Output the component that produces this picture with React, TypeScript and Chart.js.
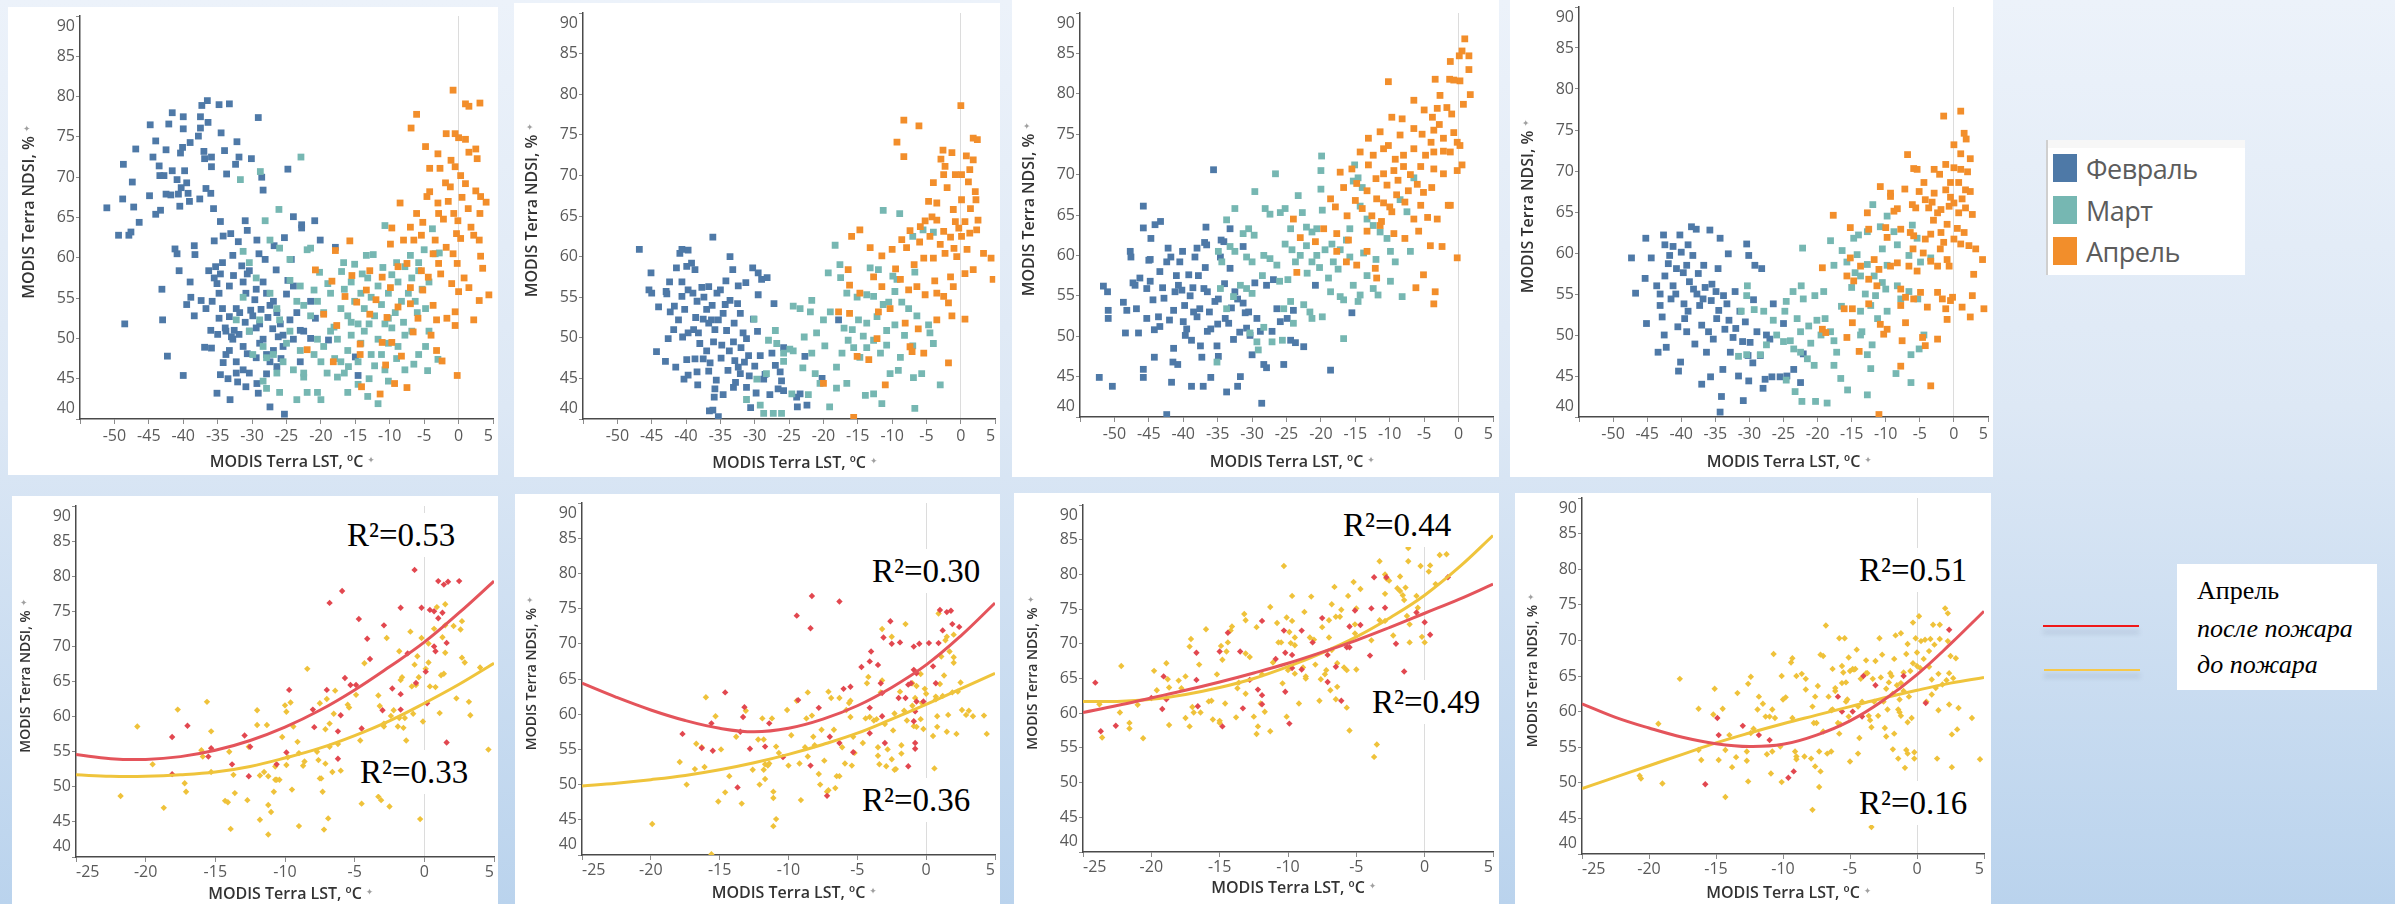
import React, { useEffect, useRef } from "react";
import { Chart, registerables } from "chart.js";

Chart.register(...registerables);
Chart.defaults.font.family = '"Open Sans", "Noto Sans", sans-serif';

type Pt = [number, number];

// ---------- ticks ----------
const yTickValues = [40, 45, 50, 55, 60, 65, 70, 75, 80, 85, 90];
const xTickValuesTop = [-55, -50, -45, -40, -35, -30, -25, -20, -15, -10, -5, 0, 5];
const xTickValuesBottom = [-25, -20, -15, -10, -5, 0, 5];
const fitX = [-25, -22.5, -20, -17.5, -15, -12.5, -10, -7.5, -5, -2.5, 0, 2.5, 5];

const monthNames = ["Февраль", "Март", "Апрель"];
const monthColors = ["#4e79a7", "#76b7b2", "#f28e2b"];

// ---------- panel 1 (top) ----------
const feb1: Pt[] = [
  [-51.1,66.2],[-49.4,62.8],[-48.8,67.3],[-48.7,71.6],[-48.5,51.8],[-47.9,62.8],[-47.6,63.2],[-47.4,69.4],[-47.2,66.3],[-46.9,73.5],
  [-46.4,64.4],[-44.9,67.7],[-44.8,76.5],[-44.4,72.5],[-44.0,74.5],[-44.0,65.4],[-43.5,71.4],[-43.4,70.2],[-43.3,65.9],[-43.1,56.1],
  [-43.0,52.3],[-42.8,70.2],[-42.5,73.4],[-42.5,67.9],[-42.3,47.8],[-42.1,76.6],[-41.8,67.8],[-41.6,78.0],[-41.6,70.8],[-41.2,61.1],
  [-40.9,60.5],[-40.9,69.7],[-40.7,67.9],[-40.6,58.4],[-40.5,66.4],[-40.4,73.0],[-40.3,68.7],[-40.1,73.7],[-40.0,76.0],[-40.0,77.5],
  [-40.0,45.4],[-39.8,70.8],[-39.5,69.3],[-39.5,54.2],[-39.3,68.0],[-39.1,67.0],[-39.0,74.3],[-39.0,57.0],[-38.9,55.1],[-38.4,61.5],
  [-38.3,60.4],[-38.4,52.8],[-37.8,75.1],[-37.6,67.3],[-37.5,76.1],[-37.5,77.5],[-37.4,54.7],[-37.3,78.9],[-37.0,73.2],[-36.9,72.3],
  [-36.9,48.9],[-36.7,68.6],[-36.0,68.0],[-36.5,79.5],[-36.4,76.8],[-35.9,71.3],[-35.9,72.5],[-35.9,48.8],[-35.6,66.1],[-35.5,62.1],
  [-35.3,58.9],[-35.1,56.8],[-34.6,58.0],[-35.1,43.2],[-34.8,79.0],[-34.6,64.5],[-34.6,45.5],[-34.5,75.5],[-34.2,62.7],[-34.0,73.3],
  [-33.7,70.4],[-33.3,79.1],[-33.2,42.4],[-33.1,63.0],[-32.7,57.8],[-32.4,71.6],[-32.2,74.4],[-32.1,44.6],[-31.9,72.5],[-31.0,64.6],
  [-30.7,63.4],[-30.7,58.0],[-30.7,48.1],[-30.1,72.3],[-29.3,62.2],[-29.1,77.4],[-29.1,43.2],[-28.6,70.0],[-28.4,68.4],[-28.1,59.8],
  [-27.4,41.5],[-26.8,61.5],[-26.4,46.5],[-25.3,40.6],[-25.3,62.5],[-24.8,71.0],[-24.8,57.2],[-24.3,59.8],[-24.0,65.1],[-22.8,64.1],
  [-22.8,63.7],[-20.9,64.6],[-20.1,62.2],[-18.9,49.8],[-17.9,61.3],[-15.0,47.7],[-14.6,45.4],
  [-34.3,53.7],[-33.3,52.7],[-32.3,53.7],[-31.8,53.2],[-33.8,50.9],[-32.8,49.9],[-31.3,49.0],[-33.3,48.5],[-32.3,47.1],[-31.3,46.1],
  [-30.4,45.7],[-29.9,52.8],[-29.4,51.3],[-28.9,51.8],[-28.4,49.9],[-27.9,55.6],[-27.4,54.1],[-26.9,54.6],[-26.4,53.2],[-25.9,51.8],
  [-25.5,50.4],[-30.9,55.6],[-31.3,57.0],[-33.3,56.5],[-34.8,55.6],[-35.8,54.6],[-36.7,53.7],[-29.4,56.1],[-28.4,57.0],[-30.4,58.4],
  [-32.8,60.3],[-34.3,59.4],[-36.3,58.4],[-33.8,48.0],[-32.3,45.7],[-30.4,50.9],[-29.4,47.6],[-27.9,48.0],[-26.9,48.5],[-25.5,49.0],
  [-24.0,49.9],[-22.5,50.9],[-24.5,52.3],[-23.5,53.2],[-21.5,54.6],[-23.0,47.1],[-27.4,47.1],[-28.9,49.4],
  [-35.5,57.5],[-34.8,52.5],[-33.9,51.3],[-33.0,50.2],[-32.6,51.0],[-31.9,50.5],[-31.0,52.0],[-30.2,53.5],[-29.6,54.8],[-28.7,53.6],
  [-27.7,52.6],[-27.0,51.2],[-26.2,50.2],[-25.8,47.5],[-27.9,45.6],[-29.3,44.4],[-30.9,44.0],[-33.5,45.0],[-34.2,47.0],[-35.0,50.5],
  [-36.0,51.0],[-31.5,59.0],[-29.0,60.5],[-32.0,62.0],[-26.5,58.5],[-25.0,55.5],[-24.0,56.5],[-23.0,51.0],[-21.5,50.0],[-20.8,52.5]
];
const mar1: Pt[] = [
  [-22.9,72.5],[-28.8,70.7],[-31.7,69.7],[-26.1,66.0],[-28.1,64.6],[-22.0,61.0],[-20.2,58.2],[-10.7,64.0],[-3.8,63.6],[-3.4,60.5],
  [-2.8,60.6],[-16.7,59.4],[-15.1,59.2],[-13.4,60.3],[-12.4,60.4],[-5.8,59.4],
  [-27.4,55.6],[-26.4,53.7],[-26.0,52.3],[-24.5,50.9],[-23.5,54.6],[-22.5,54.1],[-21.5,52.8],[-20.5,54.6],[-19.6,53.2],[-18.6,55.6],
  [-18.1,51.4],[-17.1,53.7],[-16.6,56.1],[-16.1,52.8],[-15.6,57.0],[-15.1,54.6],[-14.6,51.8],[-14.2,55.6],[-13.7,53.7],[-13.2,57.5],
  [-12.7,55.1],[-12.2,52.8],[-11.7,56.5],[-11.2,54.2],[-10.7,51.8],[-10.2,55.6],[-9.7,57.9],[-9.2,53.2],[-8.8,57.0],[-8.3,54.6],
  [-7.8,58.9],[-7.3,55.6],[-6.8,57.5],[-6.3,54.6],[-5.8,58.4],[-5.3,56.1],[-4.8,53.7],[-4.3,57.0],
  [-28.4,49.0],[-27.9,47.6],[-26.9,48.0],[-26.4,45.7],[-25.5,47.1],[-25.0,49.4],[-24.0,46.1],[-23.0,48.5],[-22.5,45.2],[-22.0,43.3],
  [-21.0,48.0],[-20.5,49.9],[-20.0,47.1],[-19.6,49.0],[-19.1,45.7],[-18.6,50.9],[-17.6,49.9],[-17.1,47.1],[-16.6,45.7],[-16.1,48.5],
  [-15.6,50.4],[-14.6,47.1],[-14.2,49.4],[-13.7,50.9],[-12.7,48.0],[-12.2,46.6],[-11.7,49.9],[-11.2,48.0],[-10.7,46.1],[-10.2,49.4],
  [-9.7,51.3],[-8.8,49.0],[-7.8,50.4],[-6.8,50.9],[-5.8,48.0],[-4.8,49.0],[-4.3,50.9],
  [-28.4,44.7],[-27.9,43.8],[-26.0,43.3],[-23.5,42.4],[-22.5,45.7],[-20.5,43.3],[-20.0,42.4],[-17.6,45.2],[-16.1,43.3],[-14.6,44.3],
  [-13.2,42.8],[-11.7,41.9],[-10.2,44.7],[-7.8,46.1],[-27.4,62.2],[-26.0,61.2],[-24.5,59.8],[-21.5,61.2],[-31.3,60.8],[-30.4,59.4],
  [-29.4,57.5],[-31.3,55.1],[-32.3,52.3],[-30.4,50.9],[-29.9,48.0],[-28.9,52.3],
  [-17.0,58.3],[-14.0,58.0],[-11.0,58.8],[-9.0,59.4],[-7.0,60.3],[-5.0,61.0],[-19.0,56.8],[-21.0,56.0],[-23.0,56.5],[-24.5,57.2],
  [-15.6,52.0],[-13.0,51.8],[-10.2,52.5],[-8.0,52.0],[-6.0,53.2],[-18.0,47.5],[-16.0,46.5],[-13.0,45.0],[-9.0,47.5],[-6.5,46.8],
  [-4.5,46.0],[-3.0,47.4]
];
const apr1: Pt[] = [
  [-0.8,80.8],[1.0,79.1],[3.1,79.2],[1.5,78.8],[-6.1,77.8],[-6.9,76.1],[-1.8,75.4],[-0.5,75.4],[0.0,74.9],[1.0,74.7],
  [-4.8,73.8],[-3.0,72.9],[1.5,73.1],[2.5,73.5],[2.7,72.3],[-4.2,71.1],[-2.7,71.1],[-1.1,72.1],[-0.5,71.3],[-1.9,69.3],
  [-1.2,68.8],[0.3,70.2],[1.0,69.2],[-4.6,67.6],[-4.2,68.2],[-8.5,66.8],[2.5,68.3],[3.2,67.6],[4.0,66.9],[-6.1,65.5],
  [-5.2,64.4],[-2.9,65.5],[-2.2,64.8],[-0.7,65.5],[-0.1,64.6],[1.4,66.1],[3.1,65.5],[-9.7,63.7],[-7.0,63.8],[-15.8,62.1],
  [-17.9,60.9],[-9.9,61.7],[-8.0,62.2],[-6.5,62.2],[-5.4,62.8],[-3.4,62.2],[-1.8,61.3],[0.3,62.4],[2.2,62.8],[3.0,62.2],
  [3.2,60.2],[-3.7,60.5],[-2.9,59.3],[-0.8,60.5],[-0.2,59.3],[-8.8,58.9],[-7.5,59.3],[-5.4,58.4],[-4.4,57.6],[-15.5,57.8],
  [-12.9,58.4],[-11.1,57.6],[-20.8,58.5],[-18.4,57.1],[0.0,55.8],[1.5,56.3],[4.4,55.4],[3.0,54.7],[-13.4,56.0],[-9.9,56.3],
  [-7.0,56.3],[-5.2,56.0],[-8.8,53.9],[-7.0,54.3],[-3.7,54.1],[-12.9,53.0],[-10.4,52.6],[-19.6,53.0],[-17.7,51.6],[-3.2,52.3],
  [-1.7,52.5],[-0.5,53.3],[2.2,52.3],[-0.5,51.6],[-14.3,49.3],[-11.1,49.5],[-9.7,49.5],[-22.0,48.6],[-18.2,47.1],[-14.3,48.0],
  [-10.6,46.7],[-3.2,48.5],[-2.4,47.2],[-0.2,45.4],[-9.3,44.4],[-7.5,43.9],[-14.1,44.0],[-11.4,43.1],
  [-1.5,67.0],[0.5,67.5],[-3.0,66.8],[1.8,63.8],[-0.3,63.0],[-2.6,58.0],[-1.0,56.8],[-5.9,52.5],[-4.0,50.4],[-6.6,50.8],
  [-8.3,47.8],[-12.0,54.8],[-14.8,54.5],[-16.5,55.2],[0.8,57.5],[3.5,58.7]
];

// ---------- panel 2 (top) ----------
const feb2: Pt[] = [
  [-46.8,60.9],[-45.1,58.0],[-45.4,55.9],[-45.0,55.5],[-44.3,48.3],[-44.0,53.8],[-43.0,47.1],[-42.9,55.7],[-42.8,55.4],[-42.6,49.9],
  [-42.3,53.2],[-41.7,53.9],[-42.4,56.9],[-41.5,46.4],[-41.1,52.2],[-40.9,60.4],[-40.6,60.9],[-41.4,58.6],[-40.6,56.9],[-40.6,55.1],
  [-40.5,50.1],[-40.3,44.9],[-39.9,58.8],[-39.7,60.8],[-39.2,59.2],[-38.7,58.4],[-39.7,55.9],[-39.0,55.5],[-38.4,54.5],[-39.7,50.6],
  [-38.9,51.0],[-38.2,50.6],[-39.9,47.3],[-38.7,47.4],[-39.7,45.4],[-38.4,45.8],[-38.3,44.2],[-37.7,56.2],[-37.4,55.0],[-36.7,56.3],
  [-37.5,52.3],[-36.7,51.8],[-36.3,52.2],[-38.0,49.3],[-37.0,48.4],[-36.0,49.5],[-37.5,47.4],[-36.5,46.9],[-36.7,45.9],[-35.6,44.8],
  [-36.6,41.0],[-36.1,41.1],[-36.1,62.4],[-35.8,43.7],[-35.9,42.7],[-35.3,40.3],[-35.5,55.5],[-35.0,55.9],[-35.3,52.2],[-34.6,53.0],
  [-34.1,50.9],[-34.8,49.1],[-33.7,48.4],[-33.1,49.5],[-34.6,43.0],[-34.3,54.1],[-33.6,54.6],[-33.6,60.0],[-33.2,58.4],[-32.9,47.2],
  [-32.4,46.4],[-32.1,45.6],[-33.1,43.9],[-32.4,56.4],[-32.1,53.0],[-32.5,54.2],[-31.7,50.6],[-31.2,49.9],[-30.9,47.8],[-31.3,56.8],
  [-31.2,43.9],[-30.6,41.4],[-30.3,58.6],[-29.5,58.0],[-30.2,52.3],[-29.6,50.8],[-29.5,55.3],[-29.0,57.2],[-28.5,45.5],[-28.7,44.9],
  [-28.2,57.4],[-27.5,48.1],[-27.0,46.6],[-27.2,54.2],[-26.6,43.7],[-25.8,43.5],[-26.3,45.8],[-26.1,44.7],[-25.8,48.8],[-23.9,42.7],
  [-23.4,43.1],[-23.8,41.5],[-22.7,47.7],[-20.2,45.0],[-17.8,52.2],[-22.4,41.7],
  [-37.0,53.5],[-35.8,51.0],[-34.9,47.5],[-33.9,46.0],[-33.0,51.8],[-32.0,48.8],[-31.5,47.0],[-30.8,45.3],[-30.0,46.5],[-29.2,47.8],
  [-36.2,54.0],[-34.2,57.0],[-38.6,52.5],[-40.2,53.5],[-41.8,51.0],[-27.8,43.0],[-29.8,43.2],[-32.8,44.5]
];
const mar2: Pt[] = [
  [-11.3,65.7],[-8.9,65.3],[-5.5,63.3],[-4.0,63.0],[-7.0,62.5],[-18.3,61.4],[-17.6,59.0],[-17.5,57.4],[-19.3,58.0],[-13.2,58.6],
  [-12.0,58.4],[-9.9,57.6],[-9.3,57.2],[-6.7,58.1],[-16.6,55.5],[-15.1,55.0],[-13.7,55.3],[-12.7,55.1],[-11.3,54.1],[-10.5,54.4],
  [-9.6,55.7],[-8.6,54.4],[-7.6,53.6],[-6.4,52.7],[-4.7,51.6],[-4.5,50.6],[-4.0,49.3],[-5.7,45.6],[-3.0,44.2],[-6.9,45.1],
  [-6.7,41.3],[-11.5,41.9],[-12.7,43.1],[-13.9,42.9],[-10.3,45.6],[-9.1,46.0],[-8.8,47.6],[-11.7,48.1],[-10.8,49.1],[-13.7,48.8],
  [-14.7,47.6],[-15.6,48.8],[-16.4,49.7],[-17.3,48.1],[-18.1,46.4],[-16.6,44.4],[-18.1,43.8],[-19.1,41.5],[-20.5,44.4],[-21.2,45.6],
  [-21.7,48.1],[-21.0,50.6],[-20.0,52.2],[-19.0,53.2],[-21.9,53.2],[-21.7,54.6],[-24.4,53.9],[-23.4,53.6],[-22.8,50.1],[-24.4,48.4],
  [-24.9,48.6],[-25.8,47.1],[-25.8,48.1],[-27.0,50.9],[-28.0,49.7],[-26.8,49.3],[-28.3,45.6],[-29.7,44.9],[-29.2,41.7],[-28.7,40.7],
  [-27.3,40.7],[-26.1,40.7],[-31.2,42.4],[-30.1,52.3],[-24.6,43.1],[-10.8,50.9],[-12.7,49.7],[-14.9,52.2],[-13.7,51.8],
  [-15.8,51.0],[-14.2,50.2],[-12.2,52.6],[-9.6,51.6],[-8.2,50.3],[-7.0,49.0],[-17.0,51.2],[-19.8,49.0],[-23.0,46.3],[-22.2,43.0]
];
const apr2: Pt[] = [
  [0.0,78.6],[-8.3,76.8],[-6.1,76.1],[-9.3,74.1],[-8.3,72.3],[1.8,74.6],[2.4,74.4],[-2.6,73.1],[-1.3,72.8],[-2.9,72.0],
  [-2.3,71.1],[0.8,72.4],[1.8,71.9],[-2.5,70.1],[-0.8,70.1],[0.1,70.1],[1.3,70.7],[1.1,69.2],[-4.0,69.1],[-4.7,66.8],
  [-3.5,66.6],[2.1,68.0],[2.2,67.0],[0.1,67.0],[-1.1,65.8],[-4.2,64.9],[-3.5,64.5],[-5.9,63.7],[-5.2,64.4],[-0.8,64.3],
  [0.6,64.3],[2.5,64.5],[-15.9,62.5],[-14.7,63.3],[-7.4,63.2],[-8.6,62.1],[-4.5,62.5],[-2.5,63.1],[-1.5,62.4],[0.1,62.5],
  [1.3,62.9],[2.3,63.3],[-13.2,61.1],[-11.5,60.1],[-10.0,60.9],[-7.9,61.1],[-5.4,59.8],[-4.0,59.8],[-2.3,60.4],[-0.6,60.0],
  [3.3,60.4],[4.4,59.8],[4.7,57.2],[0.6,57.9],[1.8,58.4],[-1.5,57.5],[-1.1,56.3],[-16.4,58.4],[-16.2,56.5],[-14.7,55.5],
  [-12.7,57.5],[-11.5,56.3],[-8.8,57.2],[-7.6,55.9],[-6.4,56.3],[-5.2,55.3],[-3.5,55.5],[-2.5,55.1],[-1.8,54.3],[-17.8,53.2],
  [-16.2,53.0],[-12.0,53.2],[-10.3,53.6],[-8.1,51.8],[-6.2,51.1],[-3.5,52.2],[-1.3,52.7],[0.6,52.3],[-12.2,49.9],[-7.4,48.9],
  [-7.1,48.3],[-5.4,48.1],[-15.1,47.7],[-13.4,47.3],[-1.8,46.9],[-11.0,44.2],[-20.0,44.4],[-15.6,40.2],
  [-3.0,61.5],[-1.0,61.0],[0.9,60.9],[-6.8,59.0],[-3.8,57.0],[-9.5,58.5],[-6.0,61.8],[1.4,65.9],[-2.0,68.5],[-0.3,63.5]
];

// ---------- panel 3 (top) ----------
const feb3: Pt[] = [
  [-52.2,44.9],[-51.6,56.2],[-51.0,55.5],[-50.9,53.2],[-50.9,52.2],[-50.3,43.8],[-48.7,54.2],[-48.4,50.4],[-48.2,53.2],[-47.7,60.5],
  [-47.6,59.8],[-47.3,56.6],[-47.0,56.3],[-46.8,53.4],[-46.5,50.4],[-46.3,57.2],[-45.8,66.1],[-45.8,63.4],[-45.8,45.9],[-45.8,44.9],
  [-45.3,55.9],[-45.3,52.2],[-45.0,59.4],[-44.8,59.5],[-44.7,62.1],[-44.4,54.5],[-44.2,50.8],[-44.2,47.4],[-44.1,63.8],[-43.6,52.4],
  [-43.4,51.2],[-43.4,58.0],[-43.3,64.2],[-42.8,54.7],[-42.4,59.2],[-42.2,60.9],[-41.8,59.8],[-41.7,44.3],[-41.4,53.2],[-41.2,55.5],
  [-41.4,48.5],[-41.5,46.8],[-40.8,46.5],[-40.5,59.2],[-40.1,60.5],[-40.7,56.3],[-40.2,55.7],[-40.0,51.8],[-39.5,50.9],[-39.7,50.1],
  [-39.2,57.6],[-38.6,56.0],[-38.8,43.8],[-38.5,53.0],[-38.0,52.4],[-38.3,59.8],[-38.0,60.9],[-37.6,53.4],[-37.5,48.8],[-37.3,47.4],
  [-37.1,43.8],[-36.9,61.6],[-36.6,61.3],[-37.0,55.9],[-36.5,55.5],[-36.7,63.5],[-36.5,50.6],[-36.0,50.9],[-36.0,44.9],[-35.6,70.6],
  [-35.4,54.3],[-34.9,54.6],[-35.1,48.8],[-34.9,47.5],[-34.6,59.8],[-34.5,61.9],[-34.1,61.7],[-33.9,52.2],[-33.4,51.6],[-33.7,43.1],
  [-33.2,58.4],[-33.2,63.3],[-32.7,49.6],[-32.5,55.5],[-32.1,54.6],[-32.1,43.8],[-31.7,45.0],[-31.3,54.1],[-31.0,52.9],[-31.3,61.1],
  [-30.8,51.0],[-30.3,50.1],[-30.0,47.7],[-29.6,56.6],[-29.3,52.2],[-28.8,50.6],[-28.6,41.7],[-28.3,46.5],[-27.9,46.1],[-27.9,56.3],
  [-27.1,50.6],[-26.9,57.0],[-26.4,53.4],[-25.9,51.8],[-25.4,46.5],[-24.9,52.2],[-24.4,49.5],[-24.0,53.2],[-23.7,49.2],[-22.5,48.7],
  [-20.8,56.3],[-18.6,45.8],[-15.5,52.9],[-42.4,40.3],
  [-43.0,56.0],[-41.0,57.5],[-39.0,55.0],[-37.8,57.5],[-36.2,53.0],[-35.0,51.5],[-34.0,56.5],[-33.0,53.5],[-31.8,50.5],[-30.5,53.0],
  [-39.8,53.8],[-42.0,52.0],[-44.8,56.8],[-38.8,49.5],[-36.8,58.5]
];
const mar3: Pt[] = [
  [-20.0,70.5],[-19.9,72.3],[-26.6,70.1],[-29.6,67.9],[-23.3,67.4],[-20.0,68.2],[-19.8,65.6],[-32.5,65.8],[-28.1,65.8],[-27.4,65.1],
  [-25.9,65.3],[-25.2,65.8],[-22.7,65.3],[-22.1,63.5],[-21.3,62.9],[-20.6,63.3],[-24.4,63.3],[-33.7,64.4],[-30.5,63.3],[-29.7,62.5],
  [-31.3,62.7],[-34.9,60.5],[-34.4,59.2],[-33.2,61.1],[-32.5,60.5],[-30.8,59.8],[-30.0,59.2],[-28.3,60.0],[-27.4,59.6],[-26.4,58.8],
  [-25.2,61.4],[-24.2,60.7],[-23.7,59.2],[-23.0,60.0],[-22.1,61.2],[-21.3,59.2],[-20.6,60.0],[-19.4,60.7],[-18.4,61.4],[-18.2,59.2],
  [-17.2,60.7],[-16.3,61.9],[-15.8,63.3],[-15.3,69.2],[-14.6,69.6],[-15.1,71.2],[-14.0,68.4],[-14.3,66.1],[-13.3,64.5],[-12.4,63.7],
  [-11.4,62.9],[-10.4,62.1],[-9.9,60.5],[-9.2,59.2],[-8.5,66.9],[-7.5,65.4],[-6.5,69.6],[-7.0,60.5],[-9.9,56.8],[-8.2,54.9],
  [-12.4,55.9],[-11.7,55.1],[-14.3,55.1],[-13.3,57.5],[-15.3,56.3],[-14.6,54.3],[-17.2,54.9],[-16.7,54.5],[-18.6,55.5],[-16.7,49.7],
  [-19.8,52.4],[-21.6,53.0],[-21.3,52.2],[-22.5,53.9],[-24.4,54.3],[-24.0,51.6],[-25.4,53.4],[-25.6,49.5],[-27.1,49.3],[-28.3,51.1],
  [-29.3,49.3],[-30.3,50.4],[-29.1,48.3],[-30.8,55.9],[-30.0,55.3],[-32.7,54.9],[-31.7,56.3],[-33.7,53.4],[-35.1,46.8],[-34.6,55.9],
  [-22.0,57.8],[-20.2,58.5],[-18.9,57.2],[-17.5,58.3],[-15.8,59.8],[-13.8,60.3],[-12.0,59.5],[-26.0,56.8],[-28.5,57.5],[-24.8,57.0]
];
const apr3: Pt[] = [
  [0.9,86.8],[0.5,85.3],[0.1,84.7],[1.5,84.7],[-1.2,84.0],[1.5,83.0],[0.2,81.6],[-0.7,81.7],[-1.3,81.8],[1.7,79.9],
  [0.7,78.7],[-2.7,79.8],[-3.4,81.8],[-1.7,78.3],[-3.1,78.2],[-10.2,81.5],[-9.7,77.1],[-8.2,76.9],[-6.5,79.2],[-5.0,78.0],
  [-3.8,77.1],[-11.4,75.3],[-13.1,74.5],[-10.2,73.6],[-8.5,74.9],[-6.5,75.7],[-5.3,75.0],[-3.6,75.5],[-2.2,74.5],[-0.7,75.2],
  [-0.2,74.0],[-14.3,72.8],[-12.4,72.4],[-10.9,73.2],[-9.2,71.9],[-8.0,72.4],[-6.5,73.2],[-4.8,72.4],[-3.6,72.8],[-2.2,72.9],
  [-1.2,72.8],[0.2,73.6],[-17.2,70.3],[-15.5,70.7],[-13.1,71.2],[-10.9,70.1],[-9.4,70.5],[-8.0,71.0],[-5.5,71.0],[-3.6,70.7],
  [-2.2,70.1],[-0.2,70.5],[0.5,71.2],[-16.7,68.4],[-14.8,68.9],[-13.3,68.0],[-11.9,67.0],[-10.4,68.7],[-9.0,67.5],[-7.3,68.0],
  [-5.1,67.8],[-3.9,68.4],[-18.6,67.0],[-17.9,66.0],[-16.2,64.9],[-14.0,65.8],[-12.6,64.9],[-10.9,66.5],[-9.7,65.4],[-7.8,66.6],
  [-6.5,64.5],[-5.5,66.2],[-4.5,64.7],[-3.1,64.5],[-1.5,66.2],[-24.0,64.5],[-23.0,62.2],[-20.8,61.7],[-19.6,63.3],[-17.7,62.7],
  [-16.0,61.9],[-13.3,63.0],[-11.4,63.7],[-9.4,62.7],[-7.8,62.1],[-5.8,63.0],[-4.1,61.2],[-23.5,57.9],[-17.7,60.5],[-16.3,59.2],
  [-14.8,58.8],[-13.3,60.5],[-12.1,58.4],[-11.9,57.2],[-5.1,57.6],[-6.2,56.0],[-2.4,61.1],[-0.2,59.7],[-3.4,55.5],[-3.6,54.0],
  [-1.2,66.2],
  [-12.0,69.5],[-10.0,66.0],[-8.8,69.3],[-7.0,70.0],[-6.0,68.8],[-11.2,64.2],[-15.0,66.8],[-4.0,74.0],[-1.0,77.5],[-2.8,76.2]
];

// ---------- panel 4 (top) ----------
const feb4: Pt[] = [
  [-47.3,59.4],[-46.7,55.1],[-45.3,56.9],[-45.2,61.8],[-45.1,51.4],[-44.4,59.4],[-43.6,56.0],[-43.1,55.0],[-43.4,47.9],[-43.1,53.6],
  [-42.6,62.2],[-42.4,61.0],[-42.5,50.0],[-42.4,57.2],[-41.9,58.7],[-42.2,48.5],[-41.7,59.7],[-41.2,60.8],[-41.5,54.4],[-41.2,56.0],
  [-40.7,58.1],[-40.5,51.0],[-40.4,45.6],[-40.2,62.2],[-40.1,46.7],[-40.0,60.1],[-39.7,57.6],[-39.2,58.5],[-39.6,53.8],[-39.5,52.0],
  [-39.0,52.9],[-39.2,50.4],[-39.0,61.0],[-38.3,59.7],[-38.5,63.2],[-37.8,62.9],[-38.2,55.6],[-37.7,55.0],[-38.0,48.9],[-37.3,53.6],
  [-36.8,54.4],[-37.0,44.0],[-36.7,58.5],[-36.3,47.9],[-35.8,62.8],[-35.7,44.9],[-35.5,56.2],[-34.9,55.3],[-35.3,49.5],[-34.8,52.0],
  [-34.6,58.1],[-34.3,61.8],[-34.3,40.6],[-34.1,42.5],[-33.9,45.8],[-33.8,54.8],[-33.3,53.8],[-33.6,50.7],[-33.1,59.9],[-32.8,47.9],
  [-32.4,49.7],[-32.1,55.3],[-31.6,45.0],[-31.4,52.9],[-30.9,42.0],[-30.6,51.6],[-30.4,61.1],[-30.1,59.7],[-30.1,44.4],[-29.9,49.1],
  [-29.4,54.3],[-29.2,58.5],[-28.9,50.4],[-28.4,47.5],[-28.2,58.1],[-28.0,43.5],[-27.7,44.6],[-27.5,50.0],[-27.0,49.5],[-26.7,44.9],
  [-26.5,53.8],[-25.5,44.9],[-25.0,51.4],[-24.5,45.0],[-23.5,45.8],[-22.5,44.2],[-22.1,47.7],
  [-38.8,56.5],[-37.5,57.5],[-36.5,55.8],[-35.6,54.2],[-34.5,53.0],[-33.0,51.8],[-32.0,50.8],[-31.0,49.2],[-30.2,47.5],[-29.5,46.6],
  [-37.0,51.2],[-36.0,50.4],[-40.8,55.0],[-42.8,52.2]
];
const mar4: Pt[] = [
  [-11.9,65.9],[-22.2,60.6],[-18.1,61.5],[-16.4,60.3],[-14.7,61.8],[-14.0,62.2],[-12.7,62.6],[-10.8,63.2],[-9.8,64.5],[-8.8,62.6],
  [-8.3,61.0],[-6.1,63.4],[-5.4,61.8],[-6.6,59.7],[-4.9,58.9],[-15.7,58.9],[-14.5,57.6],[-13.7,57.2],[-12.7,58.6],[-11.7,57.2],
  [-10.5,56.4],[-9.8,58.5],[-8.3,56.0],[-7.8,54.4],[-6.6,55.3],[-5.3,54.4],[-17.6,58.5],[-19.1,55.3],[-20.4,54.8],[-22.1,54.4],
  [-22.4,56.0],[-23.6,55.3],[-24.6,54.1],[-24.8,52.9],[-30.3,56.0],[-30.4,54.8],[-31.2,52.9],[-29.3,53.1],[-27.9,52.9],[-26.5,51.8],
  [-26.0,50.0],[-25.0,49.2],[-24.0,49.3],[-23.5,48.3],[-22.5,47.9],[-21.5,47.1],[-20.5,46.3],[-22.5,50.4],[-21.3,51.1],[-20.1,51.8],
  [-18.9,52.0],[-18.1,50.4],[-17.6,49.3],[-17.2,47.9],[-17.6,46.3],[-16.6,44.7],[-15.6,43.3],[-18.6,41.7],[-20.3,41.9],[-22.3,41.9],
  [-23.3,43.1],[-24.6,44.5],[-27.5,48.8],[-28.4,47.6],[-30.4,47.6],[-31.6,47.4],[-13.7,52.9],[-12.2,53.6],[-11.2,52.0],[-9.8,52.9],
  [-13.5,50.4],[-12.0,48.8],[-12.7,47.6],[-13.7,50.0],[-8.5,45.3],[-6.3,44.2],[-6.3,47.6],[-5.1,48.3],[-4.4,50.0],[-3.4,59.4],
  [-12.2,45.9],[-12.7,42.7],
  [-15.0,55.8],[-13.0,55.0],[-11.5,54.8],[-10.0,55.6],[-16.5,53.5],[-19.5,50.0],[-21.0,49.0],[-23.0,52.0],[-14.2,59.8],[-10.5,60.5]
];
const apr4: Pt[] = [
  [1.0,77.3],[-1.5,76.7],[1.5,74.6],[1.8,73.9],[-6.8,72.0],[0.0,73.2],[1.0,72.1],[2.4,71.5],[-1.2,70.8],[-2.1,69.6],
  [-5.9,70.3],[-5.4,70.2],[-2.9,70.2],[0.0,70.4],[1.0,70.2],[2.0,69.9],[-10.8,68.1],[-9.3,67.3],[-9.3,66.9],[-7.2,67.8],
  [-5.1,67.5],[-4.4,68.6],[-2.9,67.3],[-1.2,67.7],[-0.5,68.6],[0.7,68.6],[1.7,67.7],[2.4,67.5],[-8.8,65.1],[-8.3,65.4],
  [-6.1,65.9],[-5.6,65.5],[-4.2,66.5],[-3.7,65.5],[-2.4,64.9],[-1.9,65.3],[-0.7,65.7],[0.0,66.1],[0.7,64.9],[1.7,65.5],
  [2.7,64.7],[-12.7,64.9],[-17.7,64.6],[-15.2,63.1],[-12.5,62.9],[-10.0,63.1],[-9.8,61.9],[-7.8,62.9],[-6.4,62.5],[-5.9,62.1],
  [-4.2,61.7],[-3.4,62.3],[-1.9,62.5],[-1.5,61.3],[0.0,61.7],[1.0,61.1],[2.2,60.9],[3.2,60.5],[4.2,59.2],[-15.2,59.4],
  [-13.7,58.4],[-11.7,59.2],[-11.0,58.0],[-9.3,58.4],[-8.3,58.8],[-6.6,58.4],[-5.4,57.8],[-3.4,59.0],[-2.4,58.4],[-1.0,59.2],
  [-0.7,58.4],[2.9,57.4],[-19.3,58.2],[-15.7,57.2],[-14.7,56.6],[-12.5,56.8],[-11.3,56.0],[-7.8,55.6],[-7.1,54.6],[-5.9,54.4],
  [-4.9,55.2],[-2.4,55.2],[-1.7,54.4],[-0.5,54.2],[-0.2,54.6],[-1.2,53.2],[1.2,53.4],[2.7,54.8],[4.4,53.2],[-16.1,53.2],
  [-14.9,53.2],[-12.5,53.8],[-10.8,51.3],[-9.8,50.7],[-7.8,53.6],[-7.1,51.5],[-3.9,53.4],[-1.0,51.9],[2.4,52.2],[-19.3,50.7],
  [-18.8,50.3],[-15.7,49.7],[-13.9,48.0],[-10.3,50.1],[-7.6,49.3],[-4.6,49.7],[-4.2,48.7],[-2.4,49.5],[-7.8,46.2],[-3.4,43.8],
  [-11.0,40.3],[-14.9,51.5],
  [-3.0,64.0],[-1.0,63.5],[0.5,63.0],[1.5,62.5],[-2.0,60.5],[-4.5,60.0],[-6.0,60.5],[-0.5,66.8],[1.2,66.6],[-3.2,66.2]
];

// ---------- bottom panels: April after fire (red) / before fire (yellow) ----------
const after1: Pt[] = [
  [-0.7,80.9],[-5.9,77.9],[-6.8,76.2],[-4.7,73.9],[-4.1,71.1],[-3.9,68.2],[-2.9,73.0],[-1.7,75.5],[-0.2,75.5],[0.4,75.2],
  [0.7,75.0],[1.0,79.3],[1.4,78.8],[1.7,79.2],[2.5,79.3],[1.0,74.0],[1.3,74.8],[1.6,70.5],[0.7,70.0],[0.8,69.3],
  [-1.2,69.0],[0.1,66.4],[-0.6,64.8],[-2.3,64.0],[-1.7,63.2],[0.2,61.9],[-3.0,60.9],[-1.7,61.0],[-5.7,65.5],[-5.3,64.5],
  [-4.9,64.5],[-6.0,60.2],[-6.2,57.9],[-6.2,54.0],[-4.5,58.3],[-7.0,63.8],[-8.0,61.0],[-7.9,58.5],[-9.7,63.8],[-9.9,54.9],
  [-10.6,53.2],[-12.5,55.7],[-12.6,51.5],[-12.9,57.3],[-13.8,53.2],[-15.5,54.3],[-15.3,55.5],[-17.0,58.7],[-18.1,57.1],[-18.1,51.8],
  [1.6,56.3]
];
const before1: Pt[] = [
  [-21.8,48.7],[-20.6,58.6],[-19.5,53.2],[-18.7,47.0],[-17.7,61.0],[-17.2,50.5],[-17.1,49.3],[-16.0,55.2],[-15.9,54.3],[-15.6,62.1],
  [-15.3,57.9],[-15.3,52.1],[-14.3,48.0],[-14.1,47.8],[-14.0,55.0],[-13.9,44.0],[-13.7,51.7],[-13.6,49.1],[-12.7,48.1],[-12.6,55.7],
  [-12.0,60.9],[-12.0,58.8],[-11.8,51.6],[-11.8,45.3],[-11.5,52.1],[-11.3,58.8],[-11.2,51.5],[-11.2,47.4],[-11.2,43.2],[-11.0,46.4],
  [-10.8,49.3],[-10.7,51.0],[-10.7,52.9],[-10.6,51.0],[-10.4,51.0],[-10.2,57.1],[-10.0,61.6],[-9.9,60.7],[-9.9,53.1],[-9.8,54.2],
  [-9.6,62.0],[-9.5,49.6],[-9.4,58.6],[-9.1,56.4],[-9.0,44.4],[-9.0,54.8],[-8.7,53.0],[-8.6,53.6],[-8.4,66.8],[-7.7,55.0],
  [-7.6,53.8],[-7.5,51.2],[-7.5,61.9],[-7.4,51.2],[-7.3,49.3],[-7.2,43.9],[-7.1,53.3],[-7.1,58.2],[-7.0,62.5],[-6.9,45.5],
  [-6.8,55.7],[-6.8,59.0],[-6.6,52.1],[-6.5,60.4],[-6.4,63.7],[-6.2,56.1],[-5.5,61.7],[-5.4,61.3],[-4.9,63.1],[-4.6,56.6],
  [-4.5,47.6],[-4.3,67.6],[-3.4,53.6],[-3.3,48.6],[-3.1,48.1],[-3.3,63.0],[-3.2,61.5],[-2.9,58.6],[-2.9,59.0],[-2.7,71.2],
  [-2.5,47.2],[-2.4,60.1],[-2.2,60.9],[-1.9,58.6],[-1.8,59.8],[-1.8,69.3],[-1.7,65.2],[-1.6,65.6],[-1.5,58.4],[-1.4,59.8],
  [-1.3,56.6],[-1.0,72.1],[-0.9,64.3],[-0.8,60.4],[-0.7,67.4],[-0.5,68.6],[-0.6,64.5],[-0.4,65.6],[-0.3,45.4],[-0.2,71.2],
  [-0.1,59.3],[0.1,66.8],[0.3,67.7],[0.3,70.4],[0.4,64.3],[0.7,72.5],[0.9,75.6],[0.8,64.2],[1.1,60.5],[1.2,65.9],
  [1.3,71.3],[1.5,76.0],[1.5,69.1],[1.4,66.1],[1.5,73.0],[2.1,72.9],[2.3,62.6],[2.6,72.4],[2.7,68.4],[2.9,67.7],
  [2.7,73.6],[3.2,62.1],[3.3,60.2],[4.0,67.0],[4.6,55.3],[-6.0,52.3]
];
const afterFit1 = [54.6, 54.0, 53.9, 54.3, 55.2, 56.6, 58.5, 60.9, 63.8, 67.1, 70.6, 74.8, 79.3];
const beforeFit1 = [51.7, 51.5, 51.5, 51.7, 52.1, 52.9, 54.1, 55.5, 57.3, 59.4, 61.9, 64.6, 67.6];

const after2: Pt[] = [
  [-8.3,76.8],[-6.3,76.0],[-9.4,74.0],[-8.4,72.2],[-2.6,73.2],[-3.1,70.9],[-2.5,70.0],[-1.9,70.2],[-0.9,69.6],[-0.5,70.0],
  [0.2,70.1],[1.0,74.8],[1.5,74.5],[1.8,74.7],[1.2,71.9],[1.9,72.8],[2.4,72.4],[0.9,70.1],[-4.0,68.9],[-4.1,67.5],
  [-4.7,66.7],[-3.5,67.0],[-0.9,66.3],[-0.7,65.8],[-1.3,64.2],[-1.1,64.4],[0.5,66.8],[0.7,64.4],[-6.0,63.6],[-5.5,63.9],
  [-3.3,64.4],[-3.2,63.0],[-2.0,62.3],[-1.5,62.3],[-0.7,61.8],[-0.2,61.8],[-9.3,62.0],[-14.6,63.1],[-13.2,61.0],[-13.3,59.6],
  [-15.6,58.7],[-17.7,57.2],[-13.5,57.5],[-11.4,58.7],[-7.8,60.9],[-4.1,60.9],[-3.2,59.7],[-0.8,60.4],[-0.9,59.0],[-4.1,57.3],
  [-7.0,56.8],[-6.3,55.9],[-3.0,55.9],[-0.8,55.9],[-0.8,55.1],[-16.3,55.2],[-15.5,54.8],[-12.8,55.1],[-11.7,55.4],[-8.4,52.7],
  [-5.3,54.6],[-1.3,52.6],[-13.7,49.6],[-7.2,48.4],[-10.4,53.9]
];
const before2: Pt[] = [
  [-19.9,44.4],[-17.9,53.2],[-17.4,50.0],[-16.8,52.2],[-16.7,55.8],[-16.3,55.3],[-16.1,52.5],[-16.0,62.4],[-15.6,40.1],[-15.3,59.7],
  [-15.1,47.6],[-14.9,55.0],[-14.6,48.9],[-14.3,51.2],[-13.8,56.8],[-13.4,47.3],[-13.1,60.5],[-12.6,52.1],[-12.2,56.4],[-12.1,50.0],
  [-11.9,59.4],[-11.8,56.4],[-11.8,52.1],[-11.7,52.9],[-11.5,52.7],[-11.4,53.0],[-11.7,50.8],[-11.2,59.4],[-11.1,49.0],[-11.1,48.1],
  [-11.1,44.1],[-10.9,45.1],[-10.9,55.4],[-10.7,54.5],[-10.1,60.6],[-10.0,52.7],[-9.8,57.0],[-9.4,61.9],[-9.2,53.0],[-9.1,47.8],
  [-8.8,55.3],[-8.7,59.4],[-8.6,54.0],[-8.6,63.1],[-8.3,59.8],[-8.2,56.8],[-8.1,55.6],[-7.8,51.5],[-7.7,50.0],[-7.6,57.8],
  [-7.4,53.4],[-7.2,49.0],[-7.1,49.2],[-7.1,63.2],[-6.9,62.3],[-6.7,57.8],[-6.6,49.5],[-6.5,51.2],[-6.3,51.2],[-6.3,62.3],
  [-6.1,55.3],[-5.9,53.0],[-5.8,60.6],[-5.6,61.6],[-5.5,61.9],[-5.5,59.6],[-5.4,52.7],[-5.3,56.8],[-5.2,54.5],[-4.6,55.9],
  [-4.4,59.4],[-4.3,64.4],[-4.2,65.3],[-4.1,59.6],[-3.8,59.1],[-3.6,59.3],[-3.5,55.3],[-3.5,54.1],[-3.4,52.9],[-3.3,63.1],
  [-3.2,64.8],[-3.2,72.1],[-3.0,58.6],[-2.9,52.6],[-2.8,55.0],[-2.5,71.0],[-2.5,53.6],[-2.4,57.7],[-2.3,52.1],[-2.3,60.1],
  [-2.2,52.2],[-1.9,63.2],[-1.8,54.4],[-1.8,55.6],[-1.6,60.5],[-1.5,72.8],[-1.4,59.1],[-1.0,61.2],[-1.0,64.4],[-0.7,64.0],
  [-0.9,58.3],[-0.8,62.3],[-0.7,58.2],[-0.4,65.7],[-0.4,59.3],[-0.3,61.6],[-0.2,57.9],[-0.1,63.6],[0.0,62.9],[0.5,56.9],
  [0.6,52.3],[0.7,62.1],[0.7,62.5],[0.8,58.2],[0.8,59.7],[0.9,74.3],[1.0,64.3],[1.1,68.2],[1.2,62.6],[1.3,65.5],
  [1.4,70.5],[1.5,71.0],[1.5,57.5],[1.6,59.9],[1.7,68.9],[1.9,63.1],[2.0,67.3],[2.0,68.1],[2.0,71.3],[2.2,57.2],
  [2.3,63.2],[2.5,64.5],[2.6,60.6],[2.9,59.9],[3.1,60.5],[3.4,59.7],[4.2,59.8],[4.4,57.2]
];
const afterFit2 = [64.4, 62.4, 60.6, 59.1, 58.0, 57.5, 58.0, 59.3, 61.2, 63.8, 67.0, 71.1, 75.8];
const beforeFit2 = [49.8, 50.2, 50.7, 51.3, 52.1, 53.1, 54.3, 55.7, 57.3, 59.3, 61.4, 63.6, 65.8];

const after3: Pt[] = [
  [-24.1,64.4],[-23.7,57.4],[-22.6,58.2],[-20.0,62.2],[-19.2,60.6],[-19.1,65.3],[-18.9,62.0],[-16.7,68.7],[-16.7,64.8],[-16.6,61.0],
  [-15.0,68.9],[-14.8,58.1],[-14.4,71.6],[-13.5,68.9],[-13.3,60.7],[-12.8,64.8],[-12.2,63.4],[-11.9,73.3],[-11.9,61.3],[-11.9,62.6],
  [-10.9,67.8],[-10.3,71.9],[-10.2,68.7],[-10.2,63.1],[-9.9,58.5],[-9.7,68.4],[-9.7,66.5],[-9.0,66.3],[-9.0,71.9],[-8.2,70.2],
  [-7.5,73.7],[-7.1,68.4],[-7.1,64.5],[-6.5,66.7],[-6.1,61.8],[-5.7,69.5],[-5.5,69.5],[-5.5,72.5],[-5.1,74.8],[-4.7,72.7],
  [-4.0,68.3],[-3.9,75.1],[-3.7,79.6],[-2.9,75.2],[-2.8,79.6],[-2.1,70.0],[-1.5,66.0],[-0.6,74.5],[0.0,73.1],[0.4,71.3],
  [1.7,79.6]
];
const before3: Pt[] = [
  [-23.8,61.3],[-23.6,56.5],[-22.2,66.8],[-22.3,60.1],[-21.6,57.8],[-21.6,58.6],[-21.0,61.2],[-20.6,56.4],[-19.8,66.1],[-19.6,63.3],
  [-18.9,67.2],[-18.8,64.9],[-18.7,63.7],[-18.7,58.3],[-17.8,63.6],[-18.0,64.7],[-17.5,65.3],[-17.5,59.3],[-17.2,69.6],[-17.2,58.1],
  [-17.1,70.7],[-17.0,60.9],[-16.9,60.1],[-16.5,67.0],[-16.4,60.1],[-16.0,72.1],[-15.8,61.7],[-15.6,61.8],[-15.5,59.1],[-15.2,65.6],
  [-15.0,58.9],[-15.0,58.6],[-14.9,69.7],[-14.8,67.7],[-14.6,61.4],[-14.5,68.9],[-14.4,70.2],[-14.2,71.9],[-14.1,72.5],[-13.8,59.4],
  [-13.7,63.6],[-13.6,64.4],[-13.2,74.3],[-13.1,73.4],[-13.1,68.6],[-13.1,62.8],[-12.8,68.1],[-12.5,59.5],[-12.3,72.4],[-12.3,57.0],
  [-12.2,58.1],[-12.0,61.4],[-11.9,65.6],[-11.7,60.2],[-11.3,75.3],[-11.3,57.4],[-11.1,67.3],[-10.8,73.0],[-10.7,70.2],[-10.5,70.2],
  [-10.4,64.3],[-10.3,81.2],[-10.1,73.8],[-10.1,59.5],[-10.0,66.2],[-9.9,71.7],[-9.8,70.1],[-9.7,76.9],[-9.7,73.3],[-9.5,70.9],
  [-9.5,69.8],[-9.5,65.7],[-9.2,61.4],[-8.9,66.6],[-8.8,74.6],[-8.7,65.3],[-8.7,65.0],[-8.4,70.9],[-8.3,76.8],[-8.1,70.6],
  [-8.0,67.0],[-7.7,61.8],[-7.6,64.9],[-7.5,72.4],[-7.3,65.6],[-7.2,66.2],[-7.0,73.4],[-7.0,70.9],[-6.9,63.3],[-6.8,69.1],
  [-6.8,75.7],[-6.6,78.2],[-6.5,62.0],[-6.5,73.9],[-6.4,67.2],[-6.4,63.8],[-6.2,73.9],[-6.1,74.9],[-5.9,66.6],[-5.7,66.2],
  [-5.7,60.8],[-5.6,76.9],[-5.5,57.5],[-5.2,78.9],[-5.1,72.8],[-5.1,71.5],[-5.0,66.3],[-5.0,75.1],[-4.7,77.9],[-3.9,70.5],
  [-3.7,53.7],[-3.5,55.5],[-3.3,81.9],[-3.3,73.4],[-2.9,77.2],[-2.9,80.0],[-2.8,79.4],[-2.6,79.1],[-2.9,73.3],[-2.3,71.2],
  [-2.0,78.0],[-1.8,77.6],[-1.8,79.7],[-1.6,77.0],[-1.5,76.3],[-1.4,78.1],[-1.2,81.9],[-1.2,83.8],[-1.3,74.0],[-1.1,72.8],
  [-1.1,70.2],[-0.6,76.9],[-0.5,75.2],[-0.3,81.2],[-0.2,71.0],[0.0,70.2],[0.3,80.4],[0.4,81.3],[0.8,78.6],[1.1,82.8],
  [1.6,82.9]
];
const afterFit3 = [60.1, 61.1, 62.2, 63.3, 64.5, 65.8, 67.2, 68.8, 70.5, 72.4, 74.4, 76.4, 78.6];
const beforeFit3 = [61.7, 61.7, 62.0, 62.7, 63.7, 65.0, 66.7, 68.7, 71.0, 73.8, 77.0, 81.0, 85.6];

const after4: Pt[] = [
  [-15.8,49.8],[-14.9,59.1],[-14.8,56.7],[-13.0,58.0],[-11.8,56.7],[-11.0,56.0],[-9.6,50.7],[-9.2,51.6],[-5.9,62.1],[-5.6,60.0],
  [-4.8,60.0],[-4.1,59.3],[-4.0,65.0],[-3.1,63.7],[0.65,61.2],[2.4,71.5],[-1.0,65.0]
];
const before4: Pt[] = [
  [-20.7,51.0],[-20.6,50.6],[-19.3,58.3],[-19.0,49.9],[-17.7,64.6],[-16.3,60.4],[-16.3,54.6],[-16.1,53.2],[-15.2,59.6],[-15.1,63.2],
  [-14.8,53.2],[-14.5,60.4],[-14.3,48.0],[-14.3,54.6],[-14.0,56.7],[-13.8,52.2],[-13.5,53.6],[-13.4,62.6],[-12.7,53.1],[-12.7,54.4],
  [-12.6,50.2],[-12.6,63.9],[-12.4,64.9],[-12.4,57.0],[-12.2,57.6],[-11.9,60.3],[-11.8,62.1],[-11.5,61.1],[-11.3,59.3],[-11.2,54.0],
  [-11.0,59.3],[-10.9,51.3],[-10.8,60.3],[-10.8,54.4],[-10.7,68.1],[-10.6,59.1],[-10.2,55.1],[-10.1,65.0],[-10.1,50.1],[-10.0,61.7],
  [-9.8,62.0],[-9.4,66.9],[-9.3,67.5],[-9.3,59.1],[-9.1,54.4],[-9.0,53.7],[-9.0,53.3],[-9.0,65.0],[-8.6,65.3],[-8.4,53.7],
  [-8.3,63.1],[-8.3,64.6],[-7.9,53.4],[-7.8,60.7],[-7.8,46.2],[-7.7,58.4],[-7.6,62.1],[-7.6,52.3],[-7.5,58.4],[-7.4,63.6],
  [-7.3,49.4],[-7.3,54.4],[-7.2,51.6],[-7.2,68.0],[-7.0,67.8],[-7.0,57.2],[-6.8,72.1],[-6.7,54.1],[-6.6,62.1],[-6.4,54.4],
  [-6.4,60.2],[-6.3,66.0],[-6.3,60.3],[-6.1,63.3],[-6.1,62.9],[-5.9,58.4],[-5.8,70.3],[-5.8,56.9],[-5.7,58.2],[-5.6,64.0],
  [-5.6,66.4],[-5.5,65.5],[-5.4,70.3],[-5.3,61.4],[-5.3,64.1],[-5.2,61.7],[-5.1,67.6],[-5.1,59.3],[-5.0,53.0],[-5.0,65.7],
  [-4.8,66.0],[-4.7,65.9],[-4.6,66.0],[-4.5,68.7],[-4.4,60.7],[-4.4,54.1],[-4.3,56.3],[-4.2,64.6],[-4.1,61.4],[-3.8,65.4],
  [-3.8,67.2],[-3.7,65.4],[-3.6,59.4],[-3.5,58.8],[-3.4,43.8],[-3.4,57.8],[-3.3,64.6],[-3.2,61.4],[-3.1,67.1],[-2.9,59.4],
  [-2.8,70.3],[-2.7,64.8],[-2.6,68.0],[-2.5,61.4],[-2.4,57.7],[-2.3,63.2],[-2.3,56.5],[-2.2,60.3],[-2.1,64.1],[-2.0,65.4],
  [-1.9,65.0],[-1.8,62.5],[-1.8,54.7],[-1.7,56.9],[-1.7,67.4],[-1.6,70.7],[-1.5,63.7],[-1.4,60.3],[-1.4,53.4],[-1.3,61.7],
  [-1.3,59.9],[-1.2,59.4],[-1.2,71.0],[-1.2,64.0],[-1.0,62.9],[-1.0,65.5],[-0.9,52.1],[-0.8,54.6],[-0.8,68.1],[-0.7,58.5],
  [-0.7,69.5],[-0.7,54.1],[-0.6,62.1],[-0.5,65.7],[-0.4,59.1],[-0.3,72.5],[-0.3,66.8],[-0.2,54.3],[-0.2,53.4],[-0.1,70.3],
  [0.0,68.3],[0.0,66.4],[0.15,73.4],[0.25,66.1],[0.3,69.9],[0.5,67.4],[0.6,70.1],[0.7,61.4],[0.9,66.3],[0.9,68.5],
  [1.0,70.2],[1.1,64.5],[1.1,62.4],[1.2,72.2],[1.3,69.4],[1.4,63.3],[1.5,53.4],[1.6,65.3],[1.6,60.2],[1.7,72.2],
  [1.7,70.2],[1.9,63.8],[2.1,74.5],[2.2,64.4],[2.3,73.8],[2.3,69.9],[2.4,61.0],[2.4,65.4],[2.5,67.8],[2.6,56.8],
  [2.6,52.2],[2.7,64.7],[2.9,67.5],[3.0,57.5],[3.1,60.5],[4.1,59.1],[4.7,53.3]
];
const afterFit4 = [61.1, 59.2, 57.7, 56.4, 55.5, 55.1, 55.4, 56.7, 58.7, 61.6, 65.2, 69.5, 74.1];
const beforeFit4 = [49.2, 50.8, 52.4, 54.0, 55.6, 57.0, 58.3, 59.5, 60.7, 61.9, 63.0, 64.0, 64.8];

const r2Labels = [
  { text: "R²=0.53", left: 341, top: 513 },
  { text: "R²=0.33", left: 354, top: 750 },
  { text: "R²=0.30", left: 866, top: 549 },
  { text: "R²=0.36", left: 856, top: 778 },
  { text: "R²=0.44", left: 1337, top: 503 },
  { text: "R²=0.49", left: 1366, top: 680 },
  { text: "R²=0.51", left: 1853, top: 548 },
  { text: "R²=0.16", left: 1853, top: 781 },
];

// ---------- helpers ----------
const toXY = (a: Pt[]) => a.map(([x, y]) => ({ x, y }));
const fitXY = (vals: number[]) => fitX.map((x, i) => ({ x, y: vals[i] }));

const topSets = (feb: Pt[], mar: Pt[], apr: Pt[]) => [
  { label: monthNames[2], data: toXY(apr), pointStyle: "rect", pointRadius: 4.8, backgroundColor: monthColors[2], borderColor: monthColors[2], borderWidth: 0 },
  { label: monthNames[1], data: toXY(mar), pointStyle: "rect", pointRadius: 4.8, backgroundColor: monthColors[1], borderColor: monthColors[1], borderWidth: 0 },
  { label: monthNames[0], data: toXY(feb), pointStyle: "rect", pointRadius: 4.8, backgroundColor: monthColors[0], borderColor: monthColors[0], borderWidth: 0 },
];
const RED = "#e2474f";
const YEL = "#efc23a";
const bottomSets = (after: Pt[], before: Pt[], afterFit: number[], beforeFit: number[]) => [
  { label: "после пожара fit", data: fitXY(afterFit), showLine: true, pointRadius: 0, borderColor: "#e4545b", borderWidth: 3, tension: 0.4, fill: false },
  { label: "до пожара fit", data: fitXY(beforeFit), showLine: true, pointRadius: 0, borderColor: "#efc43c", borderWidth: 3, tension: 0.4, fill: false },
  { label: "после пожара", data: toXY(after), pointStyle: "rectRot", pointRadius: 3.2, backgroundColor: RED, borderColor: RED, borderWidth: 0 },
  { label: "до пожара", data: toXY(before), pointStyle: "rectRot", pointRadius: 3.2, backgroundColor: YEL, borderColor: YEL, borderWidth: 0 },
];

interface PanelProps {
  left: number; top: number; width: number; height: number;
  leftW: number; topPad: number; rightPad: number; bottomH: number;
  top_: boolean; yTitlePad: number; xTitlePad: number; yTitleSize: number;
  datasets: any[];
}

function Panel(p: PanelProps) {
  const ref = useRef<HTMLCanvasElement | null>(null);
  useEffect(() => {
    const xTicks = p.top_ ? xTickValuesTop : xTickValuesBottom;
    const xTitleSize = 16;
    const pin = {
      id: "pin",
      afterDraw(chart: any) {
        const ctx = chart.ctx;
        const xs = chart.scales.x;
        const ys = chart.scales.y;
        ctx.save();
        ctx.font = `600 ${xTitleSize}px "Open Sans"`;
        const wx = ctx.measureText("MODIS Terra LST, ºC").width;
        const cx = (xs.left + xs.right) / 2;
        const cy = xs.bottom - p.xTitlePad - (xTitleSize * 1.2) / 2;
        ctx.font = `600 ${p.yTitleSize}px "Open Sans"`;
        const wy = ctx.measureText("MODIS Terra NDSI, %").width;
        const ycx = ys.left + p.yTitlePad + (p.yTitleSize * 1.2) / 2;
        const ycy = (ys.top + ys.bottom) / 2;
        ctx.fillStyle = "#a0a0a0";
        ctx.font = '9px "DejaVu Sans"';
        ctx.textAlign = "left";
        ctx.textBaseline = "middle";
        ctx.fillText("✦", cx + wx / 2 + 4, cy - 2);
        ctx.translate(ycx, ycy);
        ctx.rotate(-Math.PI / 2);
        ctx.fillText("✦", wy / 2 + 4, -2);
        ctx.restore();
      },
    };
    const chart = new Chart(ref.current as HTMLCanvasElement, {
      type: "scatter",
      data: { datasets: p.datasets },
      options: {
        responsive: false,
        animation: false,
        devicePixelRatio: 1,
        events: [],
        layout: { padding: { left: 0, top: p.topPad, right: p.rightPad, bottom: 0 } },
        plugins: { legend: { display: false }, tooltip: { enabled: false } },
        scales: {
          x: {
            type: "linear",
            min: p.top_ ? -55 : -25,
            max: 5,
            afterBuildTicks: (s: any) => { s.ticks = xTicks.map((v) => ({ value: v })); },
            afterFit: (s: any) => { s.height = p.bottomH; s.paddingLeft = 0; s.paddingRight = 0; },
            ticks: {
              align: "inner", autoSkip: false, maxRotation: 0, minRotation: 0,
              padding: p.top_ ? 3 : 1, color: "#5a5a5a", font: { size: 16 },
              callback: (v: any) => (v === -55 ? "" : String(v)),
            },
            grid: {
              color: (c: any) => (c.tick && c.tick.value === 0 ? "#dcdcdc" : "rgba(0,0,0,0)"),
              tickColor: "#8c8c8c", tickLength: 5, lineWidth: 1, drawOnChartArea: true,
            },
            border: { color: "#4a4a4a", width: 1.5 },
            title: {
              display: true, text: "MODIS Terra LST, ºC", color: "#333",
              font: { size: xTitleSize, weight: "600" }, padding: { top: 0, bottom: p.xTitlePad },
            },
          },
          y: {
            type: "linear",
            min: 40,
            max: 90,
            afterBuildTicks: (s: any) => { s.ticks = yTickValues.map((v) => ({ value: v })); },
            afterFit: (s: any) => { s.width = p.leftW; s.paddingTop = 0; s.paddingBottom = 0; },
            ticks: {
              autoSkip: false,
              padding: 1, color: "#5a5a5a", font: { size: 16, lineHeight: 1.3 },
              callback: (v: any) => (v === 90 ? ["", "90"] : v === 40 ? ["40", ""] : String(v)),
            },
            grid: { drawOnChartArea: false, tickColor: "#8c8c8c", tickLength: 4 },
            border: { color: "#4a4a4a", width: 1.5 },
            title: {
              display: true, text: "MODIS Terra NDSI, %", color: "#333",
              font: { size: p.yTitleSize, weight: "600" }, padding: { top: p.yTitlePad, bottom: 0 },
            },
          },
        },
      } as any,
      plugins: [pin],
    });
    return () => chart.destroy();
  }, []);
  return (
    <div style={{ position: "absolute", left: p.left, top: p.top, width: p.width, height: p.height, background: "#fff" }}>
      <canvas ref={ref} width={p.width} height={p.height} style={{ display: "block", width: p.width, height: p.height }} />
    </div>
  );
}

const panels: PanelProps[] = [
  { left: 8, top: 7, width: 490, height: 468, leftW: 72, topPad: 9, rightPad: 5, bottomH: 56, top_: true, yTitlePad: 12, xTitlePad: 3, yTitleSize: 16, datasets: topSets(feb1, mar1, apr1) },
  { left: 514, top: 3, width: 486, height: 474, leftW: 69, topPad: 10, rightPad: 4, bottomH: 58, top_: true, yTitlePad: 9, xTitlePad: 4, yTitleSize: 16, datasets: topSets(feb2, mar2, apr2) },
  { left: 1012, top: 0, width: 487, height: 477, leftW: 68, topPad: 13, rightPad: 6, bottomH: 60, top_: true, yTitlePad: 8, xTitlePad: 5, yTitleSize: 16, datasets: topSets(feb3, mar3, apr3) },
  { left: 1510, top: 0, width: 483, height: 477, leftW: 69, topPad: 7, rightPad: 5, bottomH: 60, top_: true, yTitlePad: 9, xTitlePad: 5, yTitleSize: 16, datasets: topSets(feb4, mar4, apr4) },
  { left: 12, top: 496, width: 486, height: 408, leftW: 64, topPad: 10, rightPad: 4, bottomH: 47, top_: false, yTitlePad: 6, xTitlePad: 0, yTitleSize: 14, datasets: bottomSets(after1, before1, afterFit1, beforeFit1) },
  { left: 515, top: 494, width: 485, height: 410, leftW: 67, topPad: 9, rightPad: 5, bottomH: 49, top_: false, yTitlePad: 9, xTitlePad: 1, yTitleSize: 14, datasets: bottomSets(after2, before2, afterFit2, beforeFit2) },
  { left: 1014, top: 493, width: 485, height: 411, leftW: 69, topPad: 12, rightPad: 6, bottomH: 52, top_: false, yTitlePad: 11, xTitlePad: 6, yTitleSize: 14, datasets: bottomSets(after3, before3, afterFit3, beforeFit3) },
  { left: 1515, top: 493, width: 476, height: 411, leftW: 67, topPad: 5, rightPad: 7, bottomH: 50, top_: false, yTitlePad: 10, xTitlePad: 1, yTitleSize: 14, datasets: bottomSets(after4, before4, afterFit4, beforeFit4) },
];

export default function App() {
  const swatchTops = [14, 56, 97];
  return (
    <div
      style={{
        position: "fixed", left: 0, top: 0, width: 2395, height: 904, overflow: "hidden",
        background: "linear-gradient(to bottom, #ecf2fa 0%, #dde8f5 45%, #bad3ed 100%)",
      }}
    >
      {panels.map((p, i) => (
        <Panel key={i} {...p} />
      ))}
      {r2Labels.map((r, i) => (
        <div
          key={"r" + i}
          style={{
            position: "absolute", left: r.left, top: r.top, height: 44, lineHeight: "44px", padding: "0 6px",
            background: "#fff", color: "#000", fontFamily: '"Liberation Serif", "Times New Roman", serif',
            fontSize: 33, whiteSpace: "nowrap",
          }}
        >
          {r.text}
        </div>
      ))}
      {/* month legend */}
      <div
        style={{
          position: "absolute", left: 2046, top: 140, width: 199, height: 135, background: "#fff",
          borderLeft: "2px solid #cfcfcf", boxSizing: "border-box",
        }}
      >
        <div style={{ position: "absolute", left: 0, top: 0, right: 0, height: 8, background: "#f7f7f7" }} />
        {monthNames.map((m, i) => (
          <React.Fragment key={m}>
            <div style={{ position: "absolute", left: 5, top: swatchTops[i], width: 24, height: 28, background: monthColors[i] }} />
            <div
              style={{
                position: "absolute", left: 38, top: swatchTops[i] + 1, lineHeight: "28px", fontSize: 27,
                letterSpacing: "-0.5px", color: "#5c5c5c", fontFamily: '"Open Sans", sans-serif', whiteSpace: "nowrap",
              }}
            >
              {m}
            </div>
          </React.Fragment>
        ))}
      </div>
      {/* fire legend */}
      <div style={{ position: "absolute", left: 2043, top: 625, width: 96, height: 2, background: "#f01818", boxShadow: "0 6px 5px rgba(80,100,130,0.3)" }} />
      <div style={{ position: "absolute", left: 2044, top: 669, width: 96, height: 2, background: "#f6c84a", boxShadow: "0 6px 5px rgba(80,100,130,0.3)" }} />
      <div
        style={{
          position: "absolute", left: 2177, top: 564, width: 200, height: 126, background: "#fff",
          fontFamily: '"Liberation Serif", "Times New Roman", serif', fontSize: 26, color: "#000",
        }}
      >
        <div style={{ position: "absolute", left: 20, top: 14, lineHeight: 1, whiteSpace: "nowrap" }}>Апрель</div>
        <div style={{ position: "absolute", left: 20, top: 52, lineHeight: 1, fontStyle: "italic", whiteSpace: "nowrap" }}>после пожара</div>
        <div style={{ position: "absolute", left: 20, top: 88, lineHeight: 1, fontStyle: "italic", whiteSpace: "nowrap" }}>до пожара</div>
      </div>
    </div>
  );
}
